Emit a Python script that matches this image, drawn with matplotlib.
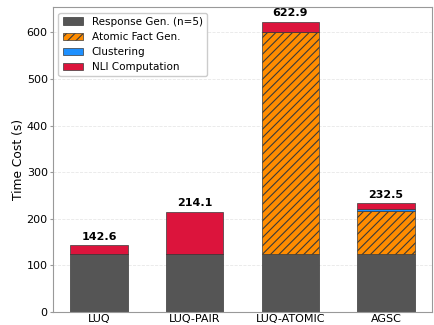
import matplotlib
matplotlib.use("Agg")
import matplotlib.pyplot as plt
import numpy as np

methods = ["LUQ", "LUQ-PAIR", "LUQ-ATOMIC", "AGSC"]
response_gen = [125.0, 125.0, 125.0, 125.0]
atomic_fact = [0.0, 0.0, 476.0, 92.0]
clustering = [0.0, 0.0, 0.0, 3.5]
nli = [17.6, 89.1, 21.9, 12.0]
totals = [142.6, 214.1, 622.9, 232.5]

series_labels = ["Response Gen. (n=5)", "Atomic Fact Gen.", "Clustering", "NLI Computation"]
colors = ["#555555", "#FF8C00", "#1E90FF", "#DC143C"]
hatches = [None, "////", None, None]

plt.rcParams["hatch.linewidth"] = 0.8

fig, ax = plt.subplots(figsize=(4.35, 3.25), dpi=100)
x = np.arange(len(methods))
width = 0.6
bottom = np.zeros(len(methods))
for vals, lab, col, h in zip([response_gen, atomic_fact, clustering, nli], series_labels, colors, hatches):
    vals = np.array(vals)
    ax.bar(x, vals, width, bottom=bottom, color=col, label=lab, hatch=h,
           edgecolor="#3a3a3a", linewidth=0.5)
    bottom += vals

for xi, t in zip(x, totals):
    ax.text(xi, t + 8, f"{t:.1f}", ha="center", va="bottom", fontsize=8, fontweight="bold")

ax.set_xticks(x)
ax.set_xticklabels(methods, fontsize=8)
ax.tick_params(axis="x", length=0, pad=2)
ax.tick_params(axis="y", labelsize=8, length=2.5, pad=1.5, color="#999999")
ax.set_ylabel("Time Cost (s)", fontsize=8.8, labelpad=1)
ax.yaxis.grid(True, linestyle="--", color="#dddddd", linewidth=0.6, alpha=0.7)
ax.set_axisbelow(True)
for s in ax.spines.values():
    s.set_color("#999999")
ax.legend(loc="upper left", fontsize=7.5, framealpha=1, edgecolor="#cccccc")

fig.subplots_adjust(left=0.1225, right=0.993, bottom=0.041, top=0.9775)
fig.savefig("out.png", dpi=100)
